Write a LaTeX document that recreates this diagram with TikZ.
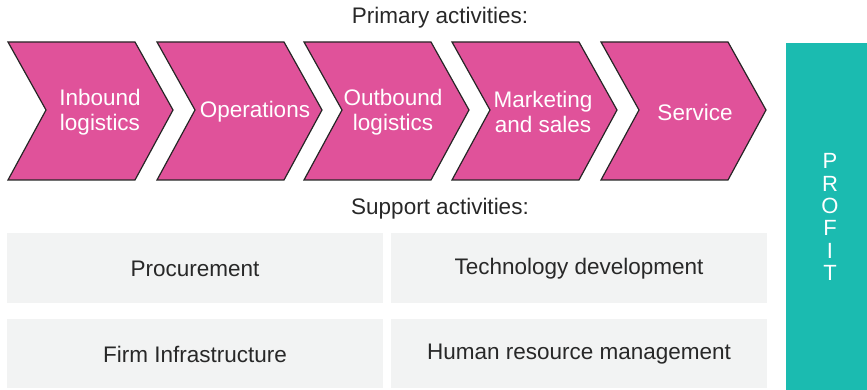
\documentclass[tikz,border=0pt]{standalone}
\usepackage{fontspec}
\setmainfont{Liberation Sans}

\definecolor{chevpink}{RGB}{224,82,154}
\definecolor{profitteal}{RGB}{27,187,176}
\definecolor{supportgray}{RGB}{242,243,243}
\definecolor{labelgray}{RGB}{40,40,40}

\tikzset{
  chevron/.style={fill=chevpink, draw=black!85, line width=1.2pt},
  chevtext/.style={text=white, align=center, font=\fontsize{22.5}{25}\selectfont},
  supportbox/.style={fill=supportgray, draw=none},
  boxtext/.style={text=labelgray, font=\fontsize{22.5}{25}\selectfont},
}

\begin{document}
\begin{tikzpicture}[x=1pt, y=-1pt]
\useasboundingbox (0,0) rectangle (867,390);

\node[boxtext] (primary) at (440,18) {Primary activities:};

% primary activity chevrons
\filldraw[chevron] (8,42) -- (135,42) -- (173,110) -- (135,180) -- (8,180) -- (46,110) -- cycle;
\node[chevtext] (inbound) at (100,112) {Inbound\\logistics};
\filldraw[chevron] (157,42) -- (284,42) -- (322,110) -- (284,180) -- (157,180) -- (195,110) -- cycle;
\node[chevtext] (operations) at (255,112) {Operations};
\filldraw[chevron] (304,42) -- (431,42) -- (469,110) -- (431,180) -- (304,180) -- (342,110) -- cycle;
\node[chevtext] (outbound) at (393,112) {Outbound\\logistics};
\filldraw[chevron] (452,42) -- (579,42) -- (617,110) -- (579,180) -- (452,180) -- (490,110) -- cycle;
\node[chevtext] (marketing) at (543,112) {Marketing\\and sales};
\filldraw[chevron] (601,42) -- (728,42) -- (766,110) -- (728,180) -- (601,180) -- (639,110) -- cycle;
\node[chevtext] (service) at (695,112) {Service};

\node[boxtext] (support) at (440,209) {Support activities:};

% support activity boxes
\filldraw[supportbox] (7,233) rectangle (383,303) node[pos=.5, boxtext, yshift=-1pt] (procurement) {Procurement};
\filldraw[supportbox] (391,233) rectangle (767,303) node[pos=.5, boxtext, yshift=-1pt] (technology) {Technology development};
\filldraw[supportbox] (7,319) rectangle (383,388) node[pos=.5, boxtext, yshift=-1pt] (infrastructure) {Firm Infrastructure};
\filldraw[supportbox] (391,319) rectangle (767,388) node[pos=.5, boxtext, yshift=-1pt] (humanres) {Human resource management};

% profit margin
\filldraw[fill=profitteal, draw=none] (786,43) rectangle (867,390);
\node[text=white, align=center, font=\fontsize{22}{22.3}\selectfont] (profit) at (830,217) {P\\R\\O\\F\\I\\T};

\end{tikzpicture}
\end{document}
